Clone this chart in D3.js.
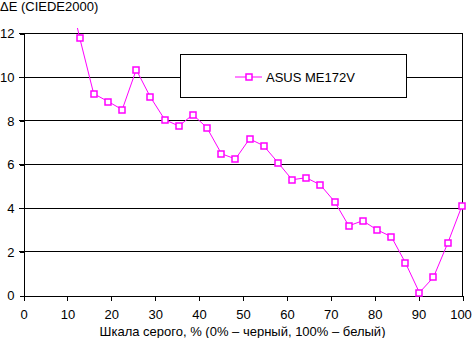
<!DOCTYPE html>
<html><head><meta charset="utf-8">
<script src="https://cdn.jsdelivr.net/npm/d3@7"></script>
<style>
body{margin:0;background:#fff}
svg{display:block;font-family:"Liberation Sans",Arial,sans-serif}
</style></head>
<body><svg id="c" width="472" height="338"></svg>
<script>
// ---- data ----
const grayLevels = [9.7, 12.9, 16.1, 19.4, 22.6, 25.8, 29.0, 32.3, 35.5, 38.7, 41.9, 45.2, 48.4, 51.6, 54.8, 58.1, 61.3, 64.5, 67.7, 71.0, 74.2, 77.4, 80.6, 83.9, 87.1, 90.3, 93.5, 96.8, 100];
const deltaE     = [14.6, 11.79, 9.22, 8.86, 8.49, 10.32, 9.07, 8.03, 7.74, 8.26, 7.66, 6.47, 6.23, 7.15, 6.84, 6.06, 5.28, 5.37, 5.05, 4.27, 3.17, 3.40, 2.99, 2.67, 1.48, 0.11, 0.81, 2.40, 4.09];
const xTicks = [0, 10, 20, 30, 40, 50, 60, 70, 80, 90, 100];
const yTicks = [0, 2, 4, 6, 8, 10, 12];
const seriesName = "ASUS ME172V";
const yTitle = "ΔE (CIEDE2000)";
const xTitle = "Шкала серого, % (0% – черный, 100% – белый)";

// ---- layout ----
const svg = d3.select("#c");
const x = d3.scaleLinear().domain([0, 100]).range([23, 462]);
const y = d3.scaleLinear().domain([0, 12]).range([295, 33]);
const col = "#ff00ff";
const ry = v => Math.round(y(v)) + 0.5;
const rx = v => Math.round(x(v)) + 0.5;

// gridlines
svg.append("g").selectAll("line").data(yTicks.filter(d => d > 0)).join("line")
  .attr("x1", 19).attr("x2", rx(100)).attr("y1", d => ry(d)).attr("y2", d => ry(d))
  .attr("stroke", "#000").attr("shape-rendering", "crispEdges");

// y axis
const ya = svg.append("g").attr("transform", `translate(${rx(0)},0.5)`)
  .call(d3.axisLeft(y).tickValues(yTicks).tickSize(4).tickPadding(5).tickFormat(d3.format("d")));
ya.selectAll("path,line").attr("stroke", "#000").attr("shape-rendering", "crispEdges");
ya.selectAll("text").attr("font-size", 13).attr("fill", "#000").attr("font-family", "Liberation Sans, Arial, sans-serif");

// x axis
const xa = svg.append("g").attr("transform", `translate(0.5,${ry(0)})`)
  .call(d3.axisBottom(x).tickValues(xTicks).tickSize(5).tickSizeOuter(0).tickPadding(9).tickFormat(d3.format("d")));
xa.selectAll("path,line").attr("stroke", "#000").attr("shape-rendering", "crispEdges");
xa.selectAll("text").attr("font-size", 13).attr("fill", "#000").attr("font-family", "Liberation Sans, Arial, sans-serif");
xa.selectAll(".tick text").filter(d => d === 100).attr("dx", -2);

// right border
svg.append("line").attr("x1", rx(100)).attr("x2", rx(100)).attr("y1", ry(12)).attr("y2", ry(0))
  .attr("stroke", "#000").attr("shape-rendering", "crispEdges");

// titles
svg.append("text").attr("x", 0).attr("y", 11).attr("font-size", 13).text(yTitle);
svg.append("text").attr("x", (x(0) + x(100)) / 2).attr("y", 336).attr("text-anchor", "middle")
  .attr("font-size", 13).text(xTitle);

// clip
svg.append("clipPath").attr("id", "clip").append("rect")
  .attr("x", x(0)).attr("y", 28).attr("width", x(100) - x(0) + 6).attr("height", 272);

const pts = grayLevels.map((g, i) => [g, deltaE[i]]);
const plot = svg.append("g").attr("clip-path", "url(#clip)");
plot.append("path").datum(pts)
  .attr("d", d3.line().x(d => x(d[0])).y(d => y(d[1])))
  .attr("fill", "none").attr("stroke", col).attr("stroke-width", 1);

svg.append("g").selectAll("rect").data(pts.filter(d => d[1] <= 12)).join("rect")
  .attr("x", d => Math.round(x(d[0])) - 3).attr("y", d => Math.round(y(d[1])) - 3)
  .attr("width", 6).attr("height", 6)
  .attr("fill", "#fff").attr("stroke", col).attr("stroke-width", 1.5);

// legend
const lg = svg.append("g");
lg.append("rect").attr("x", 180.5).attr("y", 54.5).attr("width", 226).attr("height", 43)
  .attr("fill", "#fff").attr("stroke", "#000").attr("shape-rendering", "crispEdges");
lg.append("line").attr("x1", 235).attr("x2", 262).attr("y1", 77).attr("y2", 77)
  .attr("stroke", col).attr("stroke-width", 1);
lg.append("rect").attr("x", 246).attr("y", 74).attr("width", 6).attr("height", 6)
  .attr("fill", "#fff").attr("stroke", col).attr("stroke-width", 1.5);
lg.append("text").attr("x", 266).attr("y", 81.5).attr("font-size", 13).text(seriesName);
</script></body></html>
